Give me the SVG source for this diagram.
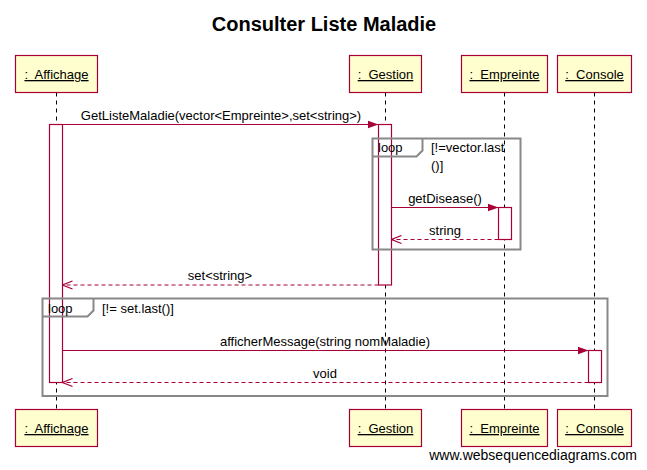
<svg xmlns="http://www.w3.org/2000/svg" width="647" height="470" viewBox="0 0 647 470">
<defs>
<style>
text{font-family:"Liberation Sans",Arial,sans-serif;fill:#000}
.title{font-size:20px;font-weight:bold}
.lbl{font-size:13px}
.part rect{fill:#FEFECE;stroke:#A80036;stroke-width:1.2}
.part text{font-size:13px;text-decoration:underline;white-space:pre}
.life{stroke:#000;stroke-width:1;stroke-dasharray:4,4}
.act{fill:#fff;stroke:#A80036;stroke-width:1.2}
.msg{stroke:#A80036;stroke-width:1.2;fill:none}
.ret{stroke:#A80036;stroke-width:1.2;fill:none;stroke-dasharray:4,3}
.frame{fill:none;stroke:#888;stroke-width:2}
.wm{font-size:14px}
</style>
<marker id="sync" markerWidth="12" markerHeight="10" refX="11" refY="5" orient="auto" markerUnits="userSpaceOnUse">
<path d="M0,1 L11,5 L0,9 Z" fill="#A80036"/>
</marker>
<marker id="open" markerWidth="12" markerHeight="10" refX="11" refY="5" orient="auto" markerUnits="userSpaceOnUse">
<path d="M1,1 L11,5 L1,9" fill="none" stroke="#A80036" stroke-width="1.2"/>
</marker>
</defs>
<rect width="647" height="470" fill="#fff"/>
<text class="title" x="324" y="31" text-anchor="middle">Consulter Liste Maladie</text>

<g id="lifelines">
<line class="life" x1="56.5" y1="92.5" x2="56.5" y2="409.5"/>
<line class="life" x1="385.5" y1="92.5" x2="385.5" y2="409.5"/>
<line class="life" x1="504.5" y1="92.5" x2="504.5" y2="409.5"/>
<line class="life" x1="594.5" y1="92.5" x2="594.5" y2="409.5"/>
</g>

<g id="activations">
<rect class="act" x="49.5" y="124.5" width="13" height="258"/>
<rect class="act" x="378.5" y="124.5" width="13" height="160.5"/>
<rect class="act" x="498.5" y="207.5" width="13" height="32"/>
<rect class="act" x="588.5" y="350.5" width="13" height="32"/>
</g>

<g id="frames">
<g id="loop1">
<rect class="frame" x="372.5" y="138.5" width="148" height="111"/>
<path class="frame" d="M372.5,156.5 L416.5,156.5 L422.5,150.5 L422.5,138.5"/>
<text class="lbl" x="378" y="152">loop</text>
<text class="lbl" x="431" y="152">[!=vector.last</text>
<text class="lbl" x="431" y="170">()]</text>
</g>
<g id="loop2">
<rect class="frame" x="42.5" y="298.5" width="565" height="97.5"/>
<path class="frame" d="M42.5,316.5 L87.5,316.5 L93.5,310.5 L93.5,298.5"/>
<text class="lbl" x="48" y="313">loop</text>
<text class="lbl" x="102" y="313">[!= set.last()]</text>
</g>
</g>

<g id="connectors">
<line class="msg" x1="62.5" y1="124.5" x2="378.5" y2="124.5" marker-end="url(#sync)"/>
<text class="lbl" x="221" y="120" text-anchor="middle">GetListeMaladie(vector&lt;Empreinte&gt;,set&lt;string&gt;)</text>
<line class="msg" x1="391.5" y1="207.5" x2="498.5" y2="207.5" marker-end="url(#sync)"/>
<text class="lbl" x="445" y="203" text-anchor="middle">getDisease()</text>
<line class="ret" x1="498.5" y1="239.5" x2="391.5" y2="239.5" marker-end="url(#open)"/>
<text class="lbl" x="445" y="235" text-anchor="middle">string</text>
<line class="ret" x1="378.5" y1="285" x2="62.5" y2="285" marker-end="url(#open)"/>
<text class="lbl" x="220" y="280" text-anchor="middle">set&lt;string&gt;</text>
<line class="msg" x1="62.5" y1="350.5" x2="588.5" y2="350.5" marker-end="url(#sync)"/>
<text class="lbl" x="325" y="346" text-anchor="middle">afficherMessage(string nomMaladie)</text>
<line class="ret" x1="588.5" y1="382.5" x2="62.5" y2="382.5" marker-end="url(#open)"/>
<text class="lbl" x="325" y="378" text-anchor="middle">void</text>
</g>

<g id="Affichage" class="part">
<rect x="15.5" y="55.5" width="82" height="37"/>
<text x="56.5" y="79" text-anchor="middle">:  Affichage</text>
<rect x="15.5" y="409.5" width="82" height="37"/>
<text x="56.5" y="433" text-anchor="middle">:  Affichage</text>
</g>
<g id="Gestion" class="part">
<rect x="349.5" y="55.5" width="72" height="37"/>
<text x="385.5" y="79" text-anchor="middle">:  Gestion</text>
<rect x="349.5" y="409.5" width="72" height="37"/>
<text x="385.5" y="433" text-anchor="middle">:  Gestion</text>
</g>
<g id="Empreinte" class="part">
<rect x="461.5" y="55.5" width="86" height="37"/>
<text x="504.5" y="79" text-anchor="middle">:  Empreinte</text>
<rect x="461.5" y="409.5" width="86" height="37"/>
<text x="504.5" y="433" text-anchor="middle">:  Empreinte</text>
</g>
<g id="Console" class="part">
<rect x="557.5" y="55.5" width="74" height="37"/>
<text x="594.5" y="79" text-anchor="middle">:  Console</text>
<rect x="557.5" y="409.5" width="74" height="37"/>
<text x="594.5" y="433" text-anchor="middle">:  Console</text>
</g>

<text class="wm" x="637" y="460" text-anchor="end">www.websequencediagrams.com</text>
</svg>
